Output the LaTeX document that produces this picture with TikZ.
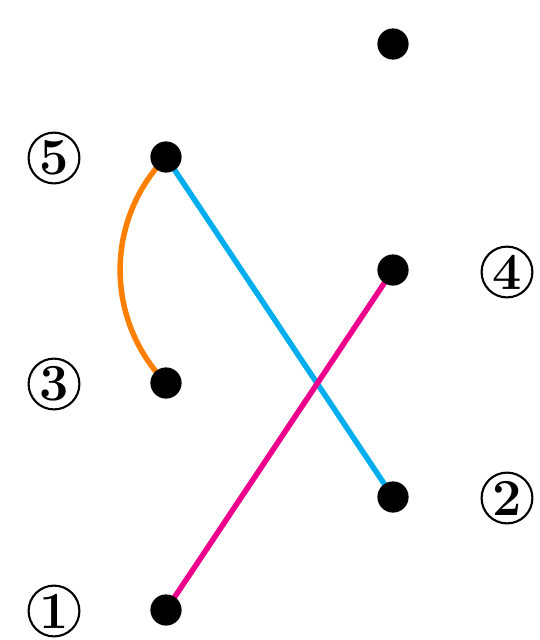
\documentclass[tikz,border=0pt]{standalone}
\definecolor{corange}{RGB}{255,128,0}
\definecolor{ccyan}{RGB}{0,174,239}
\definecolor{cmag}{RGB}{236,0,140}
\begin{document}
\begin{tikzpicture}[x=0.025cm,y=-0.025cm,
  dot/.style={circle,fill=black,minimum size=0.78cm,inner sep=0pt},
  lab/.style={circle,draw=black,line width=1.5pt,minimum size=1.27cm,inner sep=0pt,
    font=\fontsize{37}{37}\selectfont\bfseries},
  conn/.style={line width=3.9pt}]
\useasboundingbox (0,0) rectangle (540,640);
\coordinate (p0) at (393,44);
\coordinate (p5) at (166,157);
\coordinate (p4) at (393,270);
\coordinate (p3) at (166,383);
\coordinate (p2) at (393,497);
\coordinate (p1) at (166,610);
\draw[conn,corange] (p5) to[bend right=44] (p3);
\draw[conn,ccyan] (p5) -- (p2);
\draw[conn,cmag] (p1) -- (p4);
\foreach \p in {p0,p1,p2,p3,p4,p5} \node[dot] (d\p) at (\p) {};
\node[lab] (l5) at (54,158) {5};
\node[lab] (l3) at (54,384) {3};
\node[lab] (l1) at (54,611) {1};
\node[lab] (l4) at (507,272) {4};
\node[lab] (l2) at (507,498) {2};
\end{tikzpicture}
\end{document}
